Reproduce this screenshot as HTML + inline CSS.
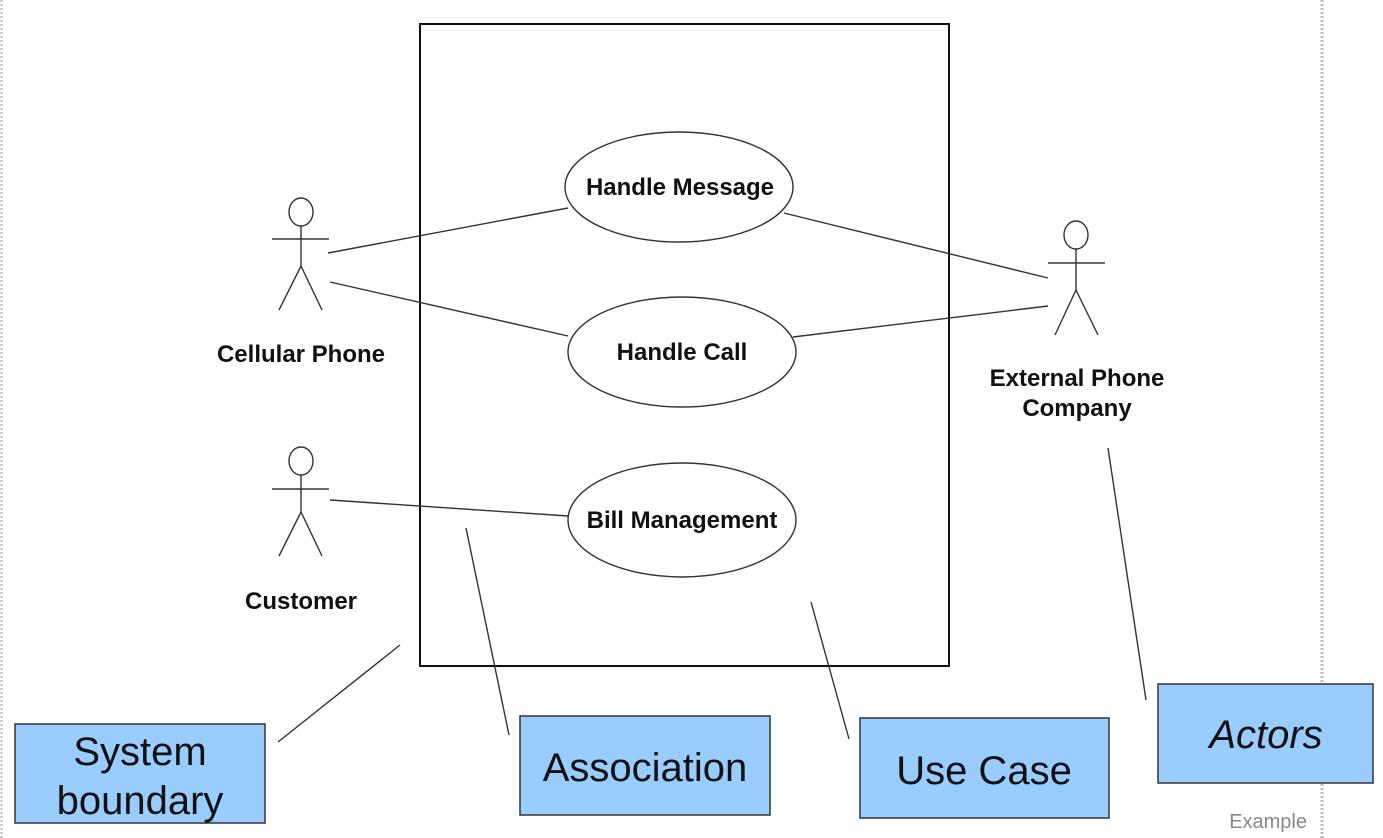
<!DOCTYPE html>
<html><head><style>
html,body{margin:0;padding:0;background:#fff;}
svg{display:block;}
</style></head><body>
<svg width="1383" height="838" viewBox="0 0 1383 838" xmlns="http://www.w3.org/2000/svg">
<line x1="1.5" y1="0" x2="1.5" y2="838" stroke="#bbb" stroke-width="2" stroke-dasharray="2,2"/>
<line x1="1322" y1="0" x2="1322" y2="838" stroke="#bbb" stroke-width="3" stroke-dasharray="2,2"/>
<rect x="420" y="24" width="529" height="642" fill="none" stroke="#111" stroke-width="2"/>
<g fill="none" stroke="#333" stroke-width="1.4">
<ellipse cx="679" cy="187" rx="114" ry="55"/>
<ellipse cx="682" cy="352" rx="114" ry="55"/>
<ellipse cx="682" cy="520" rx="114" ry="57"/>
<ellipse cx="301" cy="212" rx="12" ry="14"/>
<line x1="301" y1="226" x2="301" y2="266"/><line x1="272" y1="239" x2="329" y2="239"/>
<polyline points="279,310 301,266 322,310"/>
<ellipse cx="301" cy="461" rx="12" ry="14"/>
<line x1="301" y1="475" x2="301" y2="512"/><line x1="272" y1="489" x2="329" y2="489"/>
<polyline points="279,556 301,512 322,556"/>
<ellipse cx="1076" cy="235" rx="12" ry="14"/>
<line x1="1076" y1="249" x2="1076" y2="290"/><line x1="1048" y1="263" x2="1105" y2="263"/>
<polyline points="1055,335 1076,290 1098,335"/>
<line x1="328" y1="253" x2="568" y2="208"/>
<line x1="330" y1="282" x2="568" y2="336"/>
<line x1="784" y1="213" x2="1048" y2="278"/>
<line x1="793" y1="337" x2="1048" y2="306"/>
<line x1="330" y1="500" x2="568" y2="516"/>
<line x1="400" y1="645" x2="278" y2="742"/>
<line x1="466" y1="528" x2="509" y2="735"/>
<line x1="811" y1="602" x2="849" y2="739"/>
<line x1="1108" y1="448" x2="1146" y2="700"/>
</g>
<g font-family="Liberation Sans, sans-serif" font-weight="bold" font-size="24" fill="#111" text-anchor="middle">
<text x="680" y="195">Handle Message</text>
<text x="682" y="360">Handle Call</text>
<text x="682" y="528">Bill Management</text>
<text x="301" y="362">Cellular Phone</text>
<text x="301" y="609">Customer</text>
<text x="1077" y="386">External Phone</text>
<text x="1077" y="416">Company</text>
</g>
<g fill="#99ccff" stroke="#333" stroke-width="1.5">
<rect x="15" y="724" width="250" height="99"/>
<rect x="520" y="716" width="250" height="99"/>
<rect x="860" y="718" width="249" height="100"/>
<rect x="1158" y="684" width="215" height="99"/>
</g>
<g font-family="Liberation Sans, sans-serif" font-size="40" fill="#111" text-anchor="middle">
<text x="140" y="765">System</text>
<text x="140" y="814">boundary</text>
<text x="645" y="781">Association</text>
<text x="984" y="784">Use Case</text>
<text x="1266" y="748" font-style="italic">Actors</text>
</g>
<text x="1307" y="828" font-family="Liberation Sans, sans-serif" font-size="20" fill="#888" text-anchor="end">Example</text>
</svg>
</body></html>
